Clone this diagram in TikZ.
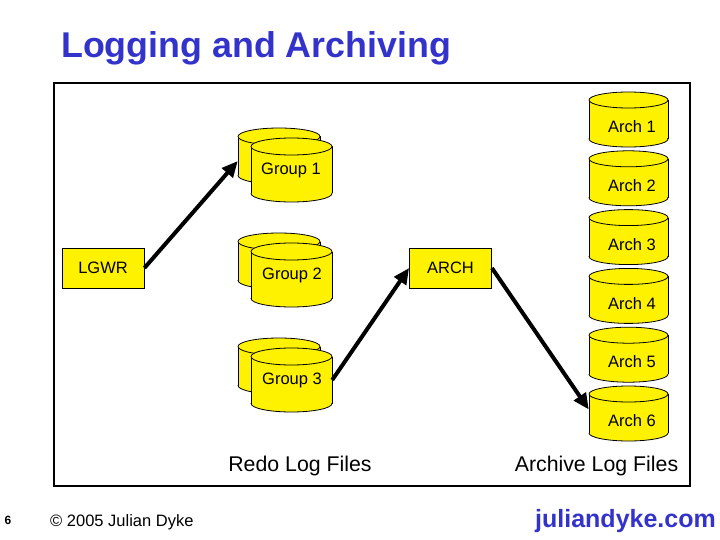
\documentclass[tikz,border=0pt]{standalone}
\usepackage{fontspec}
\setmainfont{Liberation Sans}
\usetikzlibrary{arrows.meta}
\definecolor{titleblue}{RGB}{51,51,204}
\def\cyry{8}
\newcommand\cylin[5]{% name, cx, ytop, rx, height
  \pgfmathsetmacro\cyA{#2-#4}\pgfmathsetmacro\cyB{#2+#4}%
  \pgfmathsetmacro\cyT{#3+\cyry}\pgfmathsetmacro\cyD{#3+#5-\cyry}%
  \fill[yellow] (\cyA,\cyT) rectangle (\cyB,\cyD);
  \fill[yellow] (#2,\cyD) ellipse[x radius=#4pt, y radius=\cyry pt];
  \begin{scope}
    \clip (\cyA-1,\cyD) rectangle (\cyB+1,\cyD+12);
    \draw[cylline] (#2,\cyD) ellipse[x radius=#4pt, y radius=\cyry pt];
  \end{scope}
  \draw[cylline] (\cyA,\cyT) -- (\cyA,\cyD) (\cyB,\cyT) -- (\cyB,\cyD);
  \draw[cylline, fill=yellow] (#2,\cyT) ellipse[x radius=#4pt, y radius=\cyry pt];
  \node[inner sep=0pt, minimum width={2*#4pt}, minimum height={#5pt}] (#1) at (#2,{#3+#5/2}) {};
}
\begin{document}
\begin{tikzpicture}[x=1pt,y=-1pt,
  cylline/.style={draw=black, line width=0.8pt},
  lbl/.style={font=\fontsize{16.5}{19}\selectfont, inner sep=0pt},
  procbox/.style={draw=black, line width=0.8pt, fill=yellow, minimum width=82pt, minimum height=40pt, inner sep=0pt, font=\fontsize{16.5}{19}\selectfont},
  bigarrow/.style={line width=4pt, -{Triangle[length=16pt,width=14pt]}},
  caption/.style={font=\fontsize{21.3}{25}\selectfont, inner sep=0pt}]
\useasboundingbox (0,0) rectangle (720,540);
\fill[white] (0,0) rectangle (720,540);
% title
\node[anchor=west, inner sep=0pt, text=titleblue, font=\fontsize{35.8}{42}\selectfont\bfseries] (title) at (61,48) {Logging and Archiving};
% frame
\draw[line width=2pt] (54,83) rectangle (690,486);
% process boxes
\node[procbox] (lgwr) at (103,268) {LGWR};
\node[procbox] (arch) at (450.5,268) {ARCH};
% redo log groups
\def\cyry{8.5}
\cylin{g1b}{279}{128}{41}{56}
\cylin{g1}{291.5}{138}{40.5}{64}
\node[lbl] (g1t) at (291,170) {Group 1};
\cylin{g2b}{279}{233}{41}{56}
\cylin{g2}{291.5}{243}{40.5}{64}
\node[lbl] (g2t) at (292,275) {Group 2};
\cylin{g3b}{279}{338}{41}{56}
\cylin{g3}{291.5}{348}{40.5}{64}
\node[lbl] (g3t) at (292,380) {Group 3};
% archive logs
\def\cyry{8}
\cylin{a1}{628.5}{92}{39.5}{55}
\node[lbl] (a1t) at (632,127) {Arch 1};
\cylin{a2}{628.5}{150.8}{39.5}{55}
\node[lbl] (a2t) at (632,186) {Arch 2};
\cylin{a3}{628.5}{209.6}{39.5}{55}
\node[lbl] (a3t) at (632,245) {Arch 3};
\cylin{a4}{628.5}{268.4}{39.5}{55}
\node[lbl] (a4t) at (632,304) {Arch 4};
\cylin{a5}{628.5}{327.2}{39.5}{55}
\node[lbl] (a5t) at (632,362) {Arch 5};
\cylin{a6}{628.5}{386}{39.5}{55}
\node[lbl] (a6t) at (632,421) {Arch 6};
% arrows
\draw[bigarrow] (lgwr.east) -- ([yshift=-5pt]g1b.west);
\draw[bigarrow] (g3.east) -- (arch.west);
\draw[bigarrow] (arch.east) -- ([yshift=4pt]a6.west);
% captions
\node[caption] (redo) at (300,466) {Redo Log Files};
\node[caption] (archcap) at (596.5,466) {Archive Log Files};
% footer
\node[inner sep=0pt, font=\fontsize{12}{14}\selectfont\bfseries] (pagenum) at (8,520) {6};
\node[anchor=west, inner sep=0pt, font=\fontsize{16.5}{19}\selectfont] (copy) at (50,522) {© 2005 Julian Dyke};
\node[anchor=east, inner sep=0pt, text=titleblue, font=\fontsize{25}{29}\selectfont\bfseries] (site) at (716,521) {juliandyke.com};
\end{tikzpicture}
\end{document}
